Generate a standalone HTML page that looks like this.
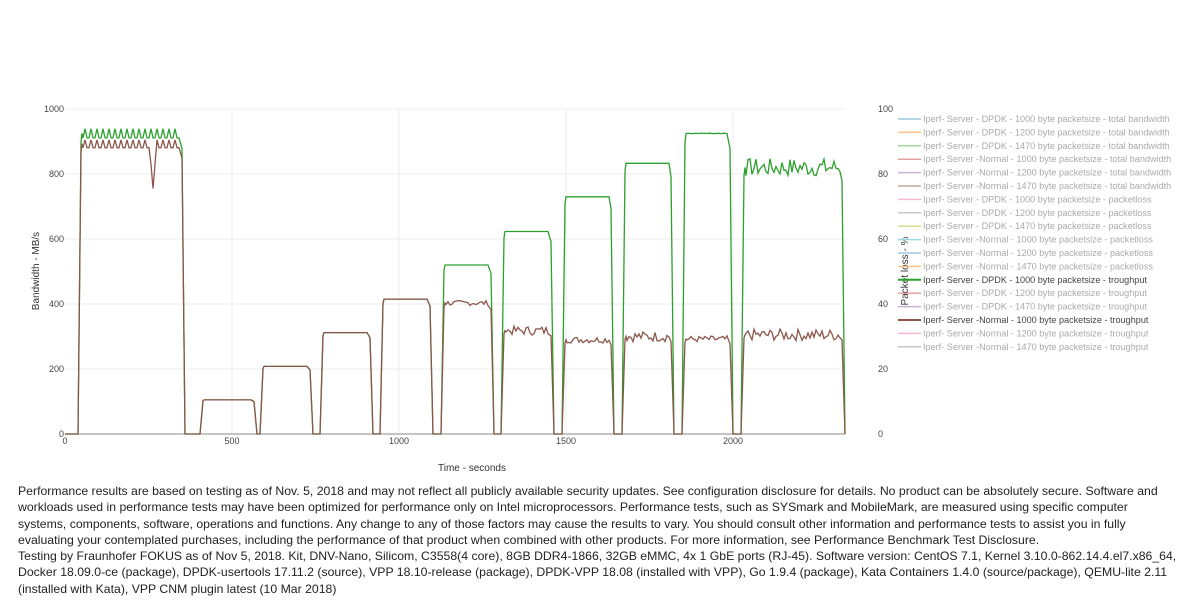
<!DOCTYPE html>
<html><head><meta charset="utf-8"><style>
body{margin:0;background:#fff;width:1200px;height:606px;overflow:hidden;font-family:"Liberation Sans",sans-serif}
svg text{font-family:"Liberation Sans",sans-serif}
.note{position:absolute;left:18px;top:483px;width:1180px;font-size:12.25px;line-height:16.3px;color:#222;white-space:nowrap}
</style></head><body>
<svg id="s" width="1200" height="480" style="position:absolute;left:0;top:0">
<g stroke="#eee" stroke-width="1">
<line x1="65" y1="109" x2="845" y2="109"/><line x1="65" y1="174" x2="845" y2="174"/><line x1="65" y1="239" x2="845" y2="239"/><line x1="65" y1="304" x2="845" y2="304"/><line x1="65" y1="369" x2="845" y2="369"/>
<line x1="232" y1="109" x2="232" y2="434"/><line x1="399" y1="109" x2="399" y2="434"/><line x1="566" y1="109" x2="566" y2="434"/><line x1="733" y1="109" x2="733" y2="434"/>
</g>
<line x1="65" y1="434" x2="845" y2="434" stroke="#888"/>
<g font-size="9" fill="#444" text-anchor="end">
<text x="64" y="112">1000</text><text x="64" y="177">800</text><text x="64" y="242">600</text><text x="64" y="307">400</text><text x="64" y="372">200</text><text x="64" y="437">0</text>
</g>
<g font-size="9" fill="#444" text-anchor="start">
<text x="878" y="112">100</text><text x="878" y="177">80</text><text x="878" y="242">60</text><text x="878" y="307">40</text><text x="878" y="372">20</text><text x="878" y="437">0</text>
</g>
<g font-size="9" fill="#444" text-anchor="middle">
<text x="65" y="444">0</text><text x="232" y="444">500</text><text x="399" y="444">1000</text><text x="566" y="444">1500</text><text x="733" y="444">2000</text>
</g>
<text x="472" y="471" font-size="10" fill="#333" text-anchor="middle">Time - seconds</text>
<text transform="translate(39,271) rotate(-90)" font-size="10" fill="#333" text-anchor="middle">Bandwidth - MB/s</text>
<text transform="translate(908,271) rotate(-90)" font-size="10" fill="#333" text-anchor="middle">Packet loss - %</text>
<path id="g" fill="none" stroke="#2ca02c" stroke-width="1.3"/>
<path id="b" fill="none" stroke="#8c564b" stroke-width="1.3"/>
<g id="leg" font-size="9.1"></g>
</svg>
<div class="note">Performance results are based on testing as of Nov. 5, 2018 and may not reflect all publicly available security updates. See configuration disclosure for details. No product can be absolutely secure. Software and<br>workloads used in performance tests may have been optimized for performance only on Intel microprocessors. Performance tests, such as SYSmark and MobileMark, are measured using specific computer<br>systems, components, software, operations and functions. Any change to any of those factors may cause the results to vary. You should consult other information and performance tests to assist you in fully<br>evaluating your contemplated purchases, including the performance of that product when combined with other products. For more information, see Performance Benchmark Test Disclosure.<br>Testing by Fraunhofer FOKUS as of Nov 5, 2018. Kit, DNV-Nano, Silicom, C3558(4 core), 8GB DDR4-1866, 32GB eMMC, 4x 1 GbE ports (RJ-45). Software version: CentOS 7.1, Kernel 3.10.0-862.14.4.el7.x86_64,<br>Docker 18.09.0-ce (package), DPDK-usertools 17.11.2 (source), VPP 18.10-release (package), DPDK-VPP 18.08 (installed with VPP), Go 1.9.4 (package), Kata Containers 1.4.0 (source/package), QEMU-lite 2.11<br>(installed with Kata), VPP CNM plugin latest (10 Mar 2018)</div>
<script>
var Y=function(v){return 434-v*0.325};
var seed=7;function r(){seed=(seed*9301+49297)%233280;return seed/233280;}
var segs=[[78,183,925,14,893,12],[200,255,105,0,105,0],[260,311,208,0,208,0],[320,371,312,0,312,0],[380,431,415,0,415,0],[441,492,520,0,403,8],[501,552,623,0,318,14],[562,612,730,0,290,10],[622,672,833,0,300,16],[682,731,925,1,292,10],[741,843,820,28,305,18]];
function build(gi,ai,isB){var d="M65,434";segs.forEach(function(s,k){var a=s[0],e=s[1];d+=" L"+a+",434 L"+(a+3)+","+Y(s[gi]*0.97)+" L"+(a+4)+","+Y(s[gi]);
for(var x=a+5;x<e-2;x+=2){var v=s[gi];if(s[ai]>0){if(k==0){v+=((x%6<3)?1:-1)*s[ai];}else v+=(r()-0.5)*2*s[ai];}
if(isB&&k==0&&x>=151&&x<=155)v=x==153?755:830;d+=" L"+x+","+Y(v).toFixed(1);}
d+=" L"+(e-1)+","+Y(s[gi]*0.95)+" L"+(e+2)+",434";});d+=" L845,434";return d;}
document.getElementById("g").setAttribute("d",build(2,3,false));
document.getElementById("b").setAttribute("d",build(4,5,true));
var L=[["#9ecae1","Iperf- Server - DPDK - 1000 byte packetsize - total bandwidth"],["#fdc086","Iperf- Server - DPDK - 1200 byte packetsize - total bandwidth"],["#a1d99b","Iperf- Server - DPDK - 1470 byte packetsize - total bandwidth"],["#e6a0a0","Iperf- Server -Normal - 1000 byte packetsize - total bandwidth"],["#cab2d6","Iperf- Server -Normal - 1200 byte packetsize - total bandwidth"],["#c4a89e","Iperf- Server -Normal - 1470 byte packetsize - total bandwidth"],["#f7b6d2","Iperf- Server - DPDK - 1000 byte packetsize - packetloss"],["#c7c7c7","Iperf- Server - DPDK - 1200 byte packetsize - packetloss"],["#dbdb8d","Iperf- Server - DPDK - 1470 byte packetsize - packetloss"],["#9edae5","Iperf- Server -Normal - 1000 byte packetsize - packetloss"],["#9ecae1","Iperf- Server -Normal - 1200 byte packetsize - packetloss"],["#fdc086","Iperf- Server -Normal - 1470 byte packetsize - packetloss"],["#2ca02c","Iperf- Server - DPDK - 1000 byte packetsize - troughput",1],["#e6a0a0","Iperf- Server - DPDK - 1200 byte packetsize - troughput"],["#cab2d6","Iperf- Server - DPDK - 1470 byte packetsize - troughput"],["#8c564b","Iperf- Server -Normal - 1000 byte packetsize - troughput",1],["#f7b6d2","Iperf- Server -Normal - 1200 byte packetsize - troughput"],["#c7c7c7","Iperf- Server -Normal - 1470 byte packetsize - troughput"]];
var h="";L.forEach(function(l,i){var y=119+i*13.4;h+='<line x1="898" x2="921" y1="'+y+'" y2="'+y+'" stroke="'+l[0]+'" stroke-width="'+(l[2]?2:1.5)+'"/><text x="923" y="'+(y+3)+'" fill="'+(l[2]?'#444':'#aaa')+'">'+l[1]+'</text>';});
document.getElementById("leg").innerHTML=h;
</script>
</body></html>
